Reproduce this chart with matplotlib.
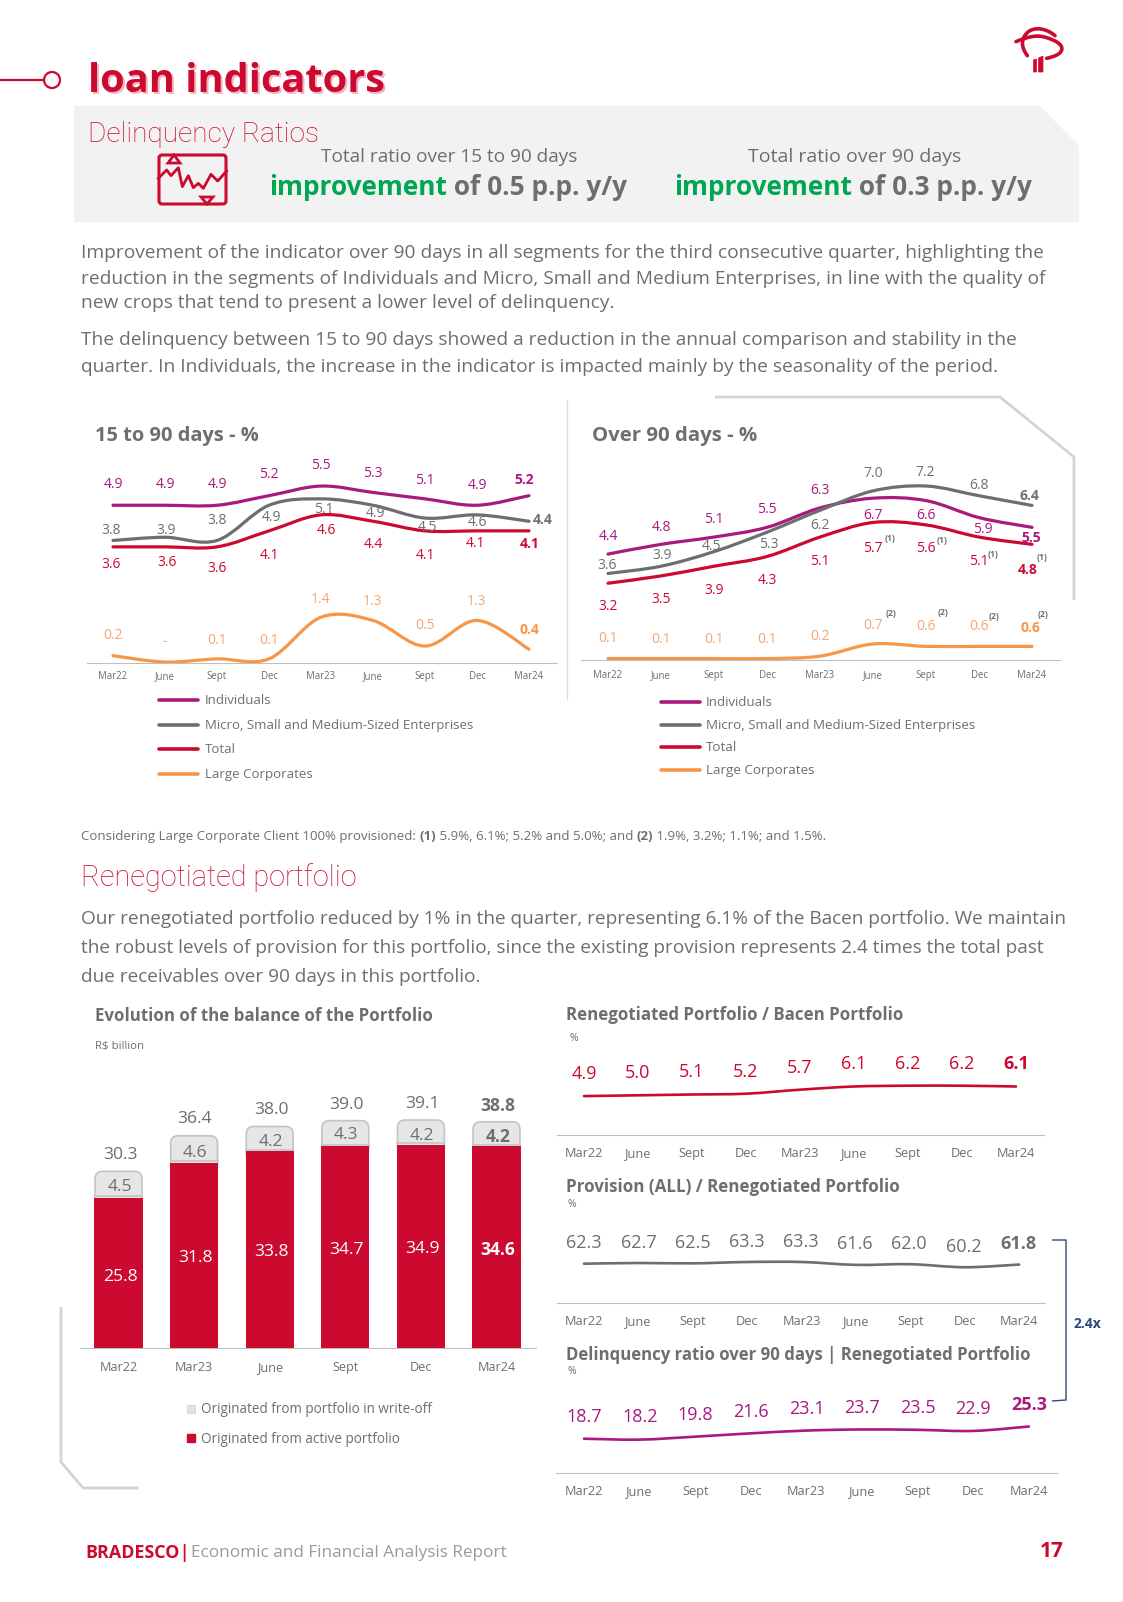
import numpy as np
import matplotlib
matplotlib.use('Agg')
import matplotlib.pyplot as plt
from matplotlib.path import Path
from matplotlib.patches import PathPatch, FancyBboxPatch, Polygon, Circle

W, H = 1123, 1602
RED = '#CC092F'
MAG = '#A9197F'
GRY = '#6D6E71'
ORG = '#F79646'
ORG_T = '#F4A673'
BORD = '#D4D4D4'
plt.rcParams['font.family'] = ['Open Sans', 'DejaVu Sans']

# data
quarters = ['Mar22', 'June', 'Sept', 'Dec', 'Mar23', 'June', 'Sept', 'Dec', 'Mar24']
series_names = ['Individuals', 'Micro, Small and Medium-Sized Enterprises', 'Total', 'Large Corporates']

ind_15 = [4.9, 4.9, 4.9, 5.2, 5.5, 5.3, 5.1, 4.9, 5.2]
msme_15 = [3.8, 3.9, 3.8, 4.9, 5.1, 4.9, 4.5, 4.6, 4.4]
total_15 = [3.6, 3.6, 3.6, 4.1, 4.6, 4.4, 4.1, 4.1, 4.1]
large_15 = [0.2, 0.0, 0.1, 0.1, 1.4, 1.3, 0.5, 1.3, 0.4]

ind_90 = [4.4, 4.8, 5.1, 5.5, 6.3, 6.7, 6.6, 5.9, 5.5]
msme_90 = [3.6, 3.9, 4.5, 5.3, 6.2, 7.0, 7.2, 6.8, 6.4]
total_90 = [3.2, 3.5, 3.9, 4.3, 5.1, 5.7, 5.6, 5.1, 4.8]
large_90 = [0.1, 0.1, 0.1, 0.1, 0.2, 0.7, 0.6, 0.6, 0.6]

bar_cats = ['Mar22', 'Mar23', 'June', 'Sept', 'Dec', 'Mar24']
bar_active = [25.8, 31.8, 33.8, 34.7, 34.9, 34.6]
bar_writeoff = [4.5, 4.6, 4.2, 4.3, 4.2, 4.2]
bar_total = [30.3, 36.4, 38.0, 39.0, 39.1, 38.8]

reneg_bacen = [4.9, 5.0, 5.1, 5.2, 5.7, 6.1, 6.2, 6.2, 6.1]
prov_reneg = [62.3, 62.7, 62.5, 63.3, 63.3, 61.6, 62.0, 60.2, 61.8]
delinq_reneg = [18.7, 18.2, 19.8, 21.6, 23.1, 23.7, 23.5, 22.9, 25.3]

para1 = ['Improvement of the indicator over 90 days in all segments for the third consecutive quarter, highlighting the',
         'reduction in the segments of Individuals and Micro, Small and Medium Enterprises, in line with the quality of',
         'new crops that tend to present a lower level of delinquency.']
para2 = ['The delinquency between 15 to 90 days showed a reduction in the annual comparison and stability in the',
         'quarter. In Individuals, the increase in the indicator is impacted mainly by the seasonality of the period.']
para3 = ['Our renegotiated portfolio reduced by 1% in the quarter, representing 6.1% of the Bacen portfolio. We maintain',
         'the robust levels of provision for this portfolio, since the existing provision represents 2.4 times the total past',
         'due receivables over 90 days in this portfolio.']

fig = plt.figure(figsize=(W / 100, H / 100), dpi=100, facecolor='white')
rend = fig.canvas.get_renderer()


def px_axes(l, t, r, b):
    ax = fig.add_axes([l / W, 1 - b / H, (r - l) / W, (b - t) / H])
    ax.patch.set_visible(False)
    for s in ['top', 'left', 'right']:
        ax.spines[s].set_visible(False)
    ax.spines['bottom'].set_color('#BFBFBF')
    ax.set_yticks([])
    return ax


def set_ticks(ax, ticks, labelsize, pad):
    ax.set_xticks(range(len(ticks)), ticks)
    ax.tick_params(axis='x', length=0, labelsize=labelsize, pad=pad, labelcolor=GRY)
    for t in ax.get_xticklabels():
        t.set_va('baseline')


def line_axes(l, t, r, b, x0, dx, v_bottom, ppu, ticks, labelsize, pad):
    ax = px_axes(l, t, r, b)
    ax.set_xlim((l - x0) / dx, (r - x0) / dx)
    ax.set_ylim(v_bottom, v_bottom + (b - t) / ppu)
    set_ticks(ax, ticks, labelsize, pad)
    return ax


# excel style smoothed line, bezier segments through the values
def smooth(ax, vals, color, lw):
    pts = np.column_stack([np.arange(len(vals)), np.array(vals, dtype=float)])
    verts = [pts[0]]
    codes = [Path.MOVETO]
    n = len(pts)
    for i in range(n - 1):
        p0, p1, p2, p3 = pts[max(i - 1, 0)], pts[i], pts[i + 1], pts[min(i + 2, n - 1)]
        verts += [p1 + (p2 - p0) / 6, p2 - (p3 - p1) / 6, p2]
        codes += [Path.CURVE4] * 3
    ax.add_patch(PathPatch(Path(verts, codes), fill=False, edgecolor=color, lw=lw, capstyle='round', zorder=3))


ov = fig.add_axes([0, 0, 1, 1], zorder=10)
ov.set_xlim(0, W)
ov.set_ylim(H, 0)
ov.axis('off')
ov.patch.set_visible(False)


def put(x, y, s, size=10, color=GRY, weight='normal', ha='left', **kw):
    # va center sits a bit high in this font, push it down with the size
    return ov.text(x, y + 0.15 * size, s, fontsize=size, color=color, fontweight=weight, ha=ha, va='center', **kw)


def text_w(s, size, weight='normal', **kw):
    t = ov.text(0, 0, s, fontsize=size, fontweight=weight, **kw)
    w = t.get_window_extent(rend).width
    t.remove()
    return w


def fit(s, width, weight='normal', **kw):
    return 10 * width / text_w(s, 10, weight, **kw)


def runs(x, y, parts, size):
    for s, color, weight in parts:
        put(x, y, s, size, color, weight)
        x += text_w(s + '.', size, weight) - text_w('.', size, weight)


def val_labels(txt, xs, ys, color, size, bold_color=None):
    for i, s in enumerate(txt):
        last = i == len(txt) - 1
        put(xs[i], ys[i], s, size, (bold_color or color) if last else color, 'bold' if last else 'normal', ha='center')


def f1(vals):
    return ['%.1f' % v for v in vals]


def poly(pts, color=BORD, lw=1.6):
    pts = np.array(pts)
    ov.plot(pts[:, 0], pts[:, 1], color=color, lw=lw, solid_joinstyle='miter', solid_capstyle='butt')


# header
ov.plot([0, 44], [80, 80], color=RED, lw=1.6)
ov.add_patch(Circle((52, 80), 8, fc='white', ec=RED, lw=1.6))
sz = fit('loan indicators', 298, 'bold')
put(90, 79, 'loan indicators', sz, '#F3B4C0', 'bold')
put(88, 77, 'loan indicators', sz, RED, 'bold')

# logo
def stroke(x, y, lw):
    verts = [(1000 + a / 3, 15 + b / 3) for a, b in zip(x, y)]
    ov.add_patch(PathPatch(Path(verts, [Path.MOVETO] + [Path.CURVE4] * (len(verts) - 1)), fill=False,
                           edgecolor=RED, lw=lw, capstyle='round'))
stroke([48, 85, 110, 140, 165, 190, 185, 180, 160, 140], [80, 65, 58, 68, 76, 88, 105, 120, 125, 130], 2.6)
stroke([82, 62, 62, 85, 105, 140, 165], [122, 95, 70, 50, 35, 40, 62], 2.6)
ov.add_patch(Polygon([(1033.5, 60), (1036.5, 59), (1036.5, 72), (1033.5, 72)], fc=RED, ec=RED, lw=0.5))
ov.add_patch(Polygon([(1038.5, 58), (1043, 56), (1043, 72), (1038.5, 72)], fc=RED, ec=RED, lw=0.5))

# grey banner
ov.add_patch(Polygon([(74, 106), (1040, 106), (1079, 146), (1079, 222), (74, 222)], fc='#F2F2F2', ec='none'))
put(88, 131, 'Delinquency Ratios', fit('Delinquency Ratios', 230, 'light', fontfamily='Roboto'), RED, 'light', fontfamily='Roboto')
put(449, 155, 'Total ratio over 15 to 90 days', fit('Total ratio over 15 to 90 days', 257), GRY, ha='center')
put(855, 155, 'Total ratio over 90 days', fit('Total ratio over 90 days', 212), GRY, ha='center')
sz = fit('improvement of 0.5 p.p. y/y', 359, 'bold')
runs(269, 185, [('improvement', '#00A651', 'bold'), (' of 0.5 p.p. y/y', GRY, 'bold')], sz)
runs(674, 185, [('improvement', '#00A651', 'bold'), (' of 0.3 p.p. y/y', GRY, 'bold')], sz)

# banner icon
ov.add_patch(FancyBboxPatch((159, 155), 67, 49, boxstyle='round,pad=0,rounding_size=3', fc='none', ec=RED, lw=2.2))
zig_x = [40, 65, 78, 100, 112, 130, 145, 160, 175, 198, 218, 245]
zig_y = [100, 75, 92, 68, 125, 92, 128, 115, 130, 88, 108, 78]
ov.plot([145 + a / 3 for a in zig_x], [145 + b / 3 for b in zig_y], color=RED, lw=2.0)
ov.add_patch(Polygon([(174, 155), (168, 163), (180, 163)], fc='#F2F2F2', ec=RED, lw=2.0))
ov.add_patch(Polygon([(207, 204), (201, 197), (213, 197)], fc='#F2F2F2', ec=RED, lw=2.0))

# paragraphs
sz = fit(para1[0], 963)
for y, s in zip([251, 277, 301], para1):
    put(81, y, s, sz)
for y, s in zip([338, 365], para2):
    put(81, y, s, sz)
sz = fit(para3[0], 986)
for y, s in zip([917, 946, 975], para3):
    put(81, y, s, sz)

# decoration lines
poly([(567, 400), (567, 700)], '#DCDCDC', 1.0)
poly([(715, 397), (1000, 397), (1074, 457), (1074, 600)], BORD, 2.0)
poly([(61, 1307), (61, 1462), (83, 1488), (139, 1488)], BORD, 2.0)

# 15 to 90 days
put(95, 434, '15 to 90 days - %', fit('15 to 90 days - %', 163, 'bold'), GRY, 'bold')
ax = line_axes(87, 440, 557, 662.7, 113, 52, -0.02, 32, quarters, 6.9, 11.7)
smooth(ax, ind_15, MAG, 2.3)
smooth(ax, msme_15, GRY, 2.3)
smooth(ax, total_15, RED, 2.3)
smooth(ax, large_15, ORG, 2.3)

lab_x = [113, 166, 217, 269, 321, 373, 425, 477, 524]
val_labels(f1(ind_15), lab_x, [483, 483, 483, 473, 464, 472, 479, 484, 479], MAG, 10)
val_labels(f1(msme_15), [111, 166, 217, 272, 324, 375, 427, 477, 543], [529, 529, 519, 516, 508, 512, 526, 521, 518], GRY, 10)
val_labels(f1(total_15), [111, 167, 217, 269, 326, 373, 425, 476, 530], [563, 561, 567, 554, 529, 543, 554, 542, 543], RED, 10)
large_15_txt = f1(large_15)
large_15_txt[1] = '-'
val_labels(large_15_txt, [113, 165, 217, 269, 321, 373, 425, 477, 529], [634, 640, 639, 639, 598, 600, 624, 600, 628], ORG_T, 10, ORG)

leg_size = fit(series_names[1], 268)
for y, name, c in zip([700, 725, 749, 774], series_names, [MAG, GRY, RED, ORG]):
    ov.plot([159, 198], [y, y], color=c, lw=2.6, solid_capstyle='round')
    put(205, y - 1, name, leg_size)

# over 90 days
put(592, 434, 'Over 90 days - %', fit('Over 90 days - %', 165, 'bold'), GRY, 'bold')
ax = line_axes(581, 440, 1060, 660.5, 608, 53, 0.02, 24.3, quarters, 6.9, 12.5)
smooth(ax, ind_90, MAG, 2.3)
smooth(ax, msme_90, GRY, 2.3)
smooth(ax, total_90, RED, 2.3)
smooth(ax, large_90, ORG, 2.3)

val_labels(f1(ind_90), [608, 661, 714, 767, 820, 873, 926, 983, 1031], [535, 526, 518, 508, 489, 514, 514, 528, 537], MAG, 10)
val_labels(f1(msme_90), [607, 662, 712, 769, 820, 873, 925, 979, 1029], [564, 554, 545, 543, 524, 472, 471, 484, 494], GRY, 10)
val_labels(f1(total_90), [608, 661, 714, 767, 820, 873, 926, 979, 1028], [605, 598, 589, 579, 560, 547, 547, 560, 568], RED, 10)
val_labels(f1(large_90), [608, 661, 714, 767, 820, 873, 926, 979, 1030], [637, 638, 638, 638, 635, 624, 625, 625, 626], ORG_T, 10, ORG)
for x, y in zip([890, 942, 993, 1042], [538, 540, 554, 557]):
    put(x, y, '(1)', 6.2, GRY, 'bold', ha='center')
for x, y in zip([891, 943, 994, 1043], [613, 612, 616, 614]):
    put(x, y, '(2)', 6.2, GRY, 'bold', ha='center')

leg_size = fit(series_names[1], 269)
for y, name, c in zip([702, 725, 747, 770], series_names, [MAG, GRY, RED, ORG]):
    ov.plot([661, 700], [y, y], color=c, lw=2.6, solid_capstyle='round')
    put(706, y - 1, name, leg_size)

# footnote
note = [('Considering Large Corporate Client 100% provisioned: ', GRY, 'normal'), ('(1)', GRY, 'bold'),
        (' 5.9%, 6.1%; 5.2% and 5.0%; and ', GRY, 'normal'), ('(2)', GRY, 'bold'),
        (' 1.9%, 3.2%; 1.1%; and 1.5%.', GRY, 'normal')]
runs(81, 835, note, fit(''.join(p[0] for p in note), 744))

put(81, 874, 'Renegotiated portfolio', fit('Renegotiated portfolio', 276, 'light', fontfamily='Roboto'), RED, 'light', fontfamily='Roboto')

# bars
put(95, 1014, 'Evolution of the balance of the Portfolio', fit('Evolution of the balance of the Portfolio', 339, 'bold'), GRY, 'bold')
put(95, 1045, 'R$ billion', fit('R$ billion', 49), GRY)
bx0, bdx, bppu = 118.5, 75.6, 5.83
ax = px_axes(80, 1090, 536, 1348)
ax.set_xlim((80 - bx0) / bdx, (536 - bx0) / bdx)
ax.set_ylim(0, (1348 - 1090) / bppu)
xs = np.arange(len(bar_cats))
ax.bar(xs, bar_active, width=0.635, color=RED, zorder=3)
for x, a, w in zip(xs, bar_active, bar_writeoff):
    ax.add_patch(FancyBboxPatch((x - 0.31, a - 2), 0.62, w + 2, boxstyle='round,pad=0,rounding_size=0.1',
                                mutation_aspect=bdx / bppu, fc='#E6E6E6', ec='#C4C4C4', lw=1.2, zorder=2))
    ax.plot([x - 0.31, x + 0.31], [a + 0.2, a + 0.2], color='#C4C4C4', lw=1.2, zorder=2.5)
set_ticks(ax, bar_cats, 9.1, 16.7)

lab_bx = [120, 195, 271, 346, 422, 498]
val_labels(f1(bar_total), lab_bx, [1153, 1117, 1108, 1103, 1102, 1104], GRY, 12.6)
val_labels(f1(bar_writeoff), lab_bx, [1185, 1151, 1140, 1133, 1134, 1135], GRY, 12.6)
val_labels(f1(bar_active), lab_bx, [1275, 1256, 1250, 1248, 1247, 1248], 'white', 12.6)

s = 'Originated from portfolio in write-off'
leg_size = fit(s, 231)
ov.plot([191], [1409], 's', ms=5.6, color='#E2E2E2', mec='#D0D0D0', mew=0.5)
put(201, 1408, s, leg_size)
ov.plot([191], [1438], 's', ms=5.6, color=RED)
put(201, 1438, 'Originated from active portfolio', leg_size)

# three small charts on the right
put(566, 1013, 'Renegotiated Portfolio / Bacen Portfolio', fit('Renegotiated Portfolio / Bacen Portfolio', 338, 'bold'), GRY, 'bold')
put(570, 1037, '%', 7.5)
ax = line_axes(557, 1060, 1044, 1135.3, 584, 54, 0, 8, quarters, 9.2, 15.5)
smooth(ax, reneg_bacen, RED, 1.9)
val_labels(f1(reneg_bacen), [584, 638, 692, 746, 800, 854, 908, 962, 1016], [1072, 1071, 1070, 1070, 1066, 1062, 1062, 1062, 1062], RED, 13)

put(566, 1185, 'Provision (ALL) / Renegotiated Portfolio', fit('Provision (ALL) / Renegotiated Portfolio', 336, 'bold'), GRY, 'bold')
put(568, 1203, '%', 7.5)
ax = line_axes(557, 1225, 1045, 1303.3, 584, 54.4, 39, 1.7, quarters, 9.2, 15.5)
smooth(ax, prov_reneg, GRY, 1.9)
val_labels(f1(prov_reneg), [584, 639, 693, 747, 801, 855, 909, 964, 1018], [1241, 1241, 1241, 1240, 1240, 1242, 1242, 1245, 1242], GRY, 13)

s = 'Delinquency ratio over 90 days | Renegotiated Portfolio'
put(566, 1353, s, fit(s, 465, 'bold'), GRY, 'bold')
put(568, 1370, '%', 7.5)
ax = line_axes(556, 1390, 1057, 1473.3, 584, 55.6, 0, 1.85, quarters, 9.2, 15.5)
smooth(ax, delinq_reneg, MAG, 1.9)
val_labels(f1(delinq_reneg), [584, 640, 695, 751, 807, 862, 918, 973, 1029], [1415, 1415, 1413, 1410, 1407, 1406, 1406, 1407, 1403], MAG, 13)

poly([(1052, 1240), (1066, 1240), (1066, 1400), (1052, 1401)], '#2A4A7F', 1.0)
put(1087, 1323, '2.4x', 10, '#2A4A7F', 'bold', ha='center')

# footer
put(85, 1551, 'BRADESCO', fit('BRADESCO', 94, 'bold'), RED, 'bold')
put(179, 1551, '|', 12.2, RED, 'bold')
s = 'Economic and Financial Analysis Report'
put(191, 1551, s, fit(s, 315), '#9A9A9A')
put(1052, 1549, '17', 15, RED, 'bold', ha='center')

fig.savefig('out.png', dpi=100, facecolor='white')
